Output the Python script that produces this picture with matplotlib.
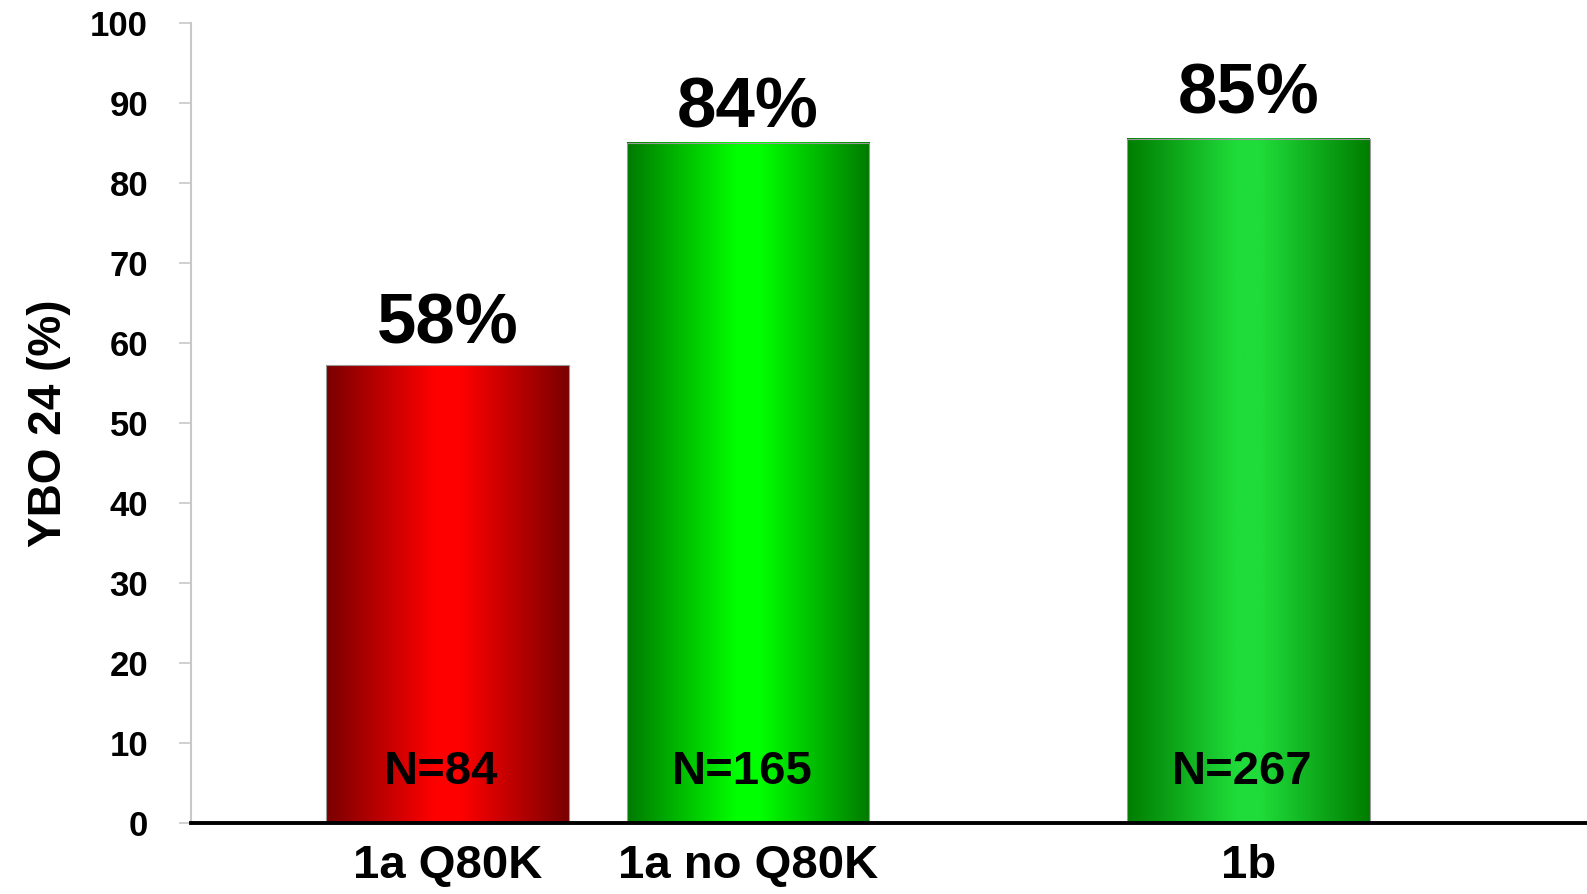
import numpy as np
import matplotlib.pyplot as plt
from matplotlib.colors import LinearSegmentedColormap

# data
categories = ['1a Q80K', '1a no Q80K', '1b']
values = [57.2, 85.0, 85.5]          # bar heights as drawn
value_labels = ['58%', '84%', '85%']
n_labels = ['N=84', 'N=165', 'N=267']

# layout / style
positions = [0, 1, 2.667]
label_offsets = [2.7, 1.9, 3.2]
edge_colors = ['#7a0000', '#007a00', '#007d00']
mid_colors = ['#ff0000', '#00ff00', '#1fdc3a']

plt.rcParams['font.family'] = ['Liberation Sans', 'DejaVu Sans']
plt.rcParams['font.weight'] = 'bold'

fig = plt.figure(figsize=(15.87, 8.94), dpi=100)
ax = fig.add_axes([0.1204, 0.0794, 0.8796, 0.8949])

bars = ax.bar(positions, values, width=0.807, color='none', edgecolor='#9a9a9a',
              linewidth=0.8, zorder=3)

# horizontal gradient fill for each bar
grad = np.linspace(0, 1, 256).reshape(1, -1)
for b, c0, c1 in zip(bars, edge_colors, mid_colors):
    cmap = LinearSegmentedColormap.from_list('g', [(0, c0), (0.45, c1), (0.55, c1), (1, c0)])
    x0 = b.get_x()
    ax.imshow(grad, cmap=cmap, aspect='auto', zorder=2,
              extent=(x0, x0 + b.get_width(), 0, b.get_height()))

for p, v, lab, off, n in zip(positions, values, value_labels, label_offsets, n_labels):
    ax.text(p, v + off, lab, ha='center', va='baseline', fontsize=51, fontweight='bold')
    ax.text(p - 0.02, 4.9, n, ha='center', va='baseline', fontsize=34, fontweight='bold', zorder=4)

ax.set_xlim(-0.853, 3.793)
ax.set_ylim(0, 100)
ax.set_yticks(range(0, 101, 10))
ax.set_xticks(positions)
ax.set_xticklabels(categories, fontsize=34, fontweight='bold')
ax.tick_params(axis='x', length=0, pad=15)
ax.tick_params(axis='y', labelsize=25, length=9, width=1.2, color='#c8c8c8', pad=22)
for lab in ax.get_yticklabels():
    lab.set_fontweight('bold')

ax.set_ylabel('YBO 24 (%)', fontsize=33, fontweight='bold', labelpad=14)

for s in ['top', 'right', 'bottom']:
    ax.spines[s].set_visible(False)
ax.spines['left'].set_color('#c8c8c8')
ax.spines['left'].set_linewidth(1.5)
ax.axhline(0, color='black', linewidth=2.8, zorder=5, clip_on=False)

fig.savefig('out.png', dpi=100)
